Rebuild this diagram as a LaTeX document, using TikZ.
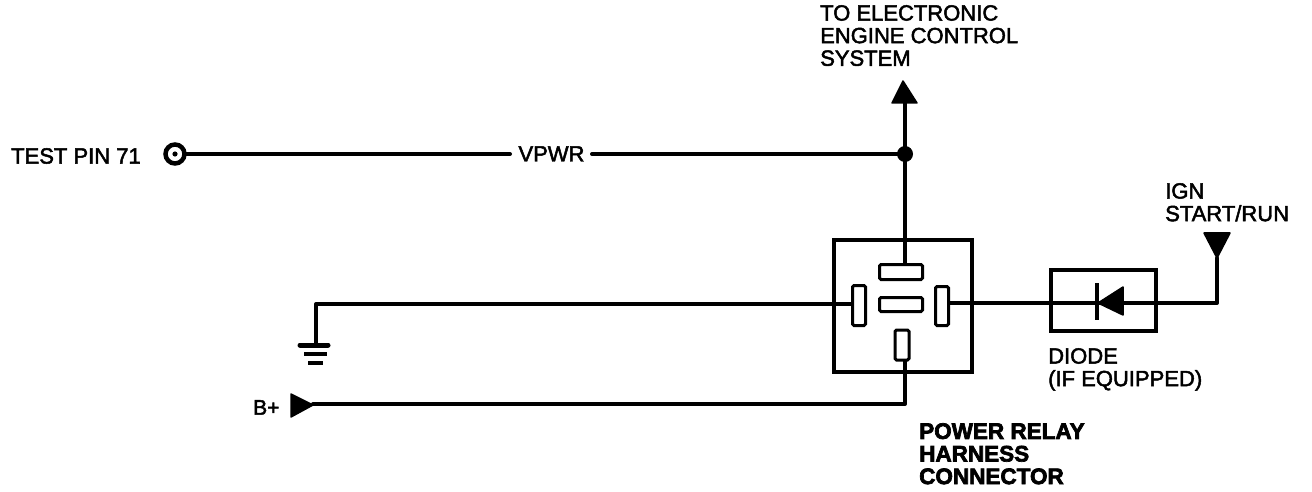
\documentclass[tikz,border=0pt]{standalone}
\usepackage{fontspec}
\setmainfont{Liberation Sans}
\newfontfamily\semibold[FakeBold=2.2]{Liberation Sans}
\newfontfamily\heavy[FakeBold=3]{Liberation Sans Bold}
\usetikzlibrary{calc}
\tikzset{
 x=1bp,y=-1bp,
 wire/.style={line width=4bp,line cap=round,line join=round},
 pinbox/.style={draw,line width=3bp,fill=white,rounded corners=1.5bp,rectangle,inner sep=0,minimum width=#1},
 frame/.style={draw,line width=3.8bp,rectangle,inner sep=0},
 solid tri/.style={fill=black,line join=round,draw,line width=1.5bp},
 label text/.style={inner sep=0,anchor=north west,align=left,font=\fontsize{22bp}{22.6bp}\selectfont\semibold},
 heavy text/.style={inner sep=0,anchor=north west,align=left,font=\fontsize{22.5bp}{22.6bp}\selectfont\heavy},
}
\begin{document}
\begin{tikzpicture}
\useasboundingbox (0,0) rectangle (1312,492);
% relay and diode boxes
\node[frame,minimum width=138bp,minimum height=132bp] (relay) at (903,306) {};
\node[frame,minimum width=105bp,minimum height=61bp] (diodebox) at (1103.5,300.5) {};
% named points
\coordinate (junction) at (905,154);
\coordinate (arrowbase) at (905,102);
\coordinate (gndcorner) at (316,304);
\coordinate (gndtop) at (316,345);
\coordinate (bcorner) at (905,404);
\coordinate (bapex) at (313,404);
\coordinate (igncorner) at (1217,303);
\coordinate (igntip) at (1217,258);
% wires
\draw[wire] (arrowbase) -- (junction) -- (905,263);
\draw[wire] (gndtop) -- (gndcorner) -- (853,304);
\draw[wire] (bapex) -- (bcorner) -- (905,360);
\draw[wire] (949,303) -- (igncorner) -- (igntip);
% pins
\node[pinbox=43bp,minimum height=15bp] (pintop) at (901,272) {};
\node[pinbox=43bp,minimum height=14bp] (pinmid) at (901,304.5) {};
\node[pinbox=13bp,minimum height=40bp] (pinleft) at (859,305.5) {};
\node[pinbox=13bp,minimum height=39bp] (pinright) at (942,306) {};
\node[pinbox=14bp,minimum height=30bp] (pinbot) at (902,345) {};
% test pin
\node[draw,circle,line width=4.5bp,fill=white,minimum size=19bp,inner sep=0] (test) at (175,154) {};
\fill (test.center) circle (2.6bp);
\node[label text,anchor=base] (vpwr) at (551.5,161.5) {VPWR};
\draw[wire] (test.east) -- (510,154);
\draw[wire] (592,154) -- (junction);
\fill (junction) circle (8bp);
% arrow heads
\filldraw[solid tri] (903,81) -- (917,103) -- (892,103) -- cycle;
\filldraw[solid tri] (1204,233) -- (1230,233) -- (1217,258) -- cycle;
\filldraw[solid tri] (291,394) -- (313,405) -- (291,417) -- cycle;
% ground
\draw[line width=5bp,line cap=round] (300,345) -- (328,345);
\draw[line width=4.5bp] (304,354) -- (327,354);
\draw[line width=4.5bp] (308,363) -- (323,363);
% diode symbol
\draw[line width=3.4bp] (1097,283) -- (1097,320);
\filldraw[solid tri] (1098,303) -- (1123,287) -- (1123,315) -- cycle;
% labels
\node[label text] (testlabel) at (11,148) {TEST PIN 71};
\node[label text] (tolabel) at (820,5) {TO ELECTRONIC\\ENGINE CONTROL\\SYSTEM};
\node[label text] (ignlabel) at (1165,183) {IGN\\START/RUN};
\node[label text] (diodelabel) at (1048,348) {DIODE\\(IF EQUIPPED)};
\node[label text,font=\fontsize{21bp}{22bp}\selectfont\semibold] (blabel) at (253,400) {B+};
\node[heavy text] (relaylabel) at (919,423) {POWER RELAY\\HARNESS\\CONNECTOR};
\end{tikzpicture}
\end{document}
